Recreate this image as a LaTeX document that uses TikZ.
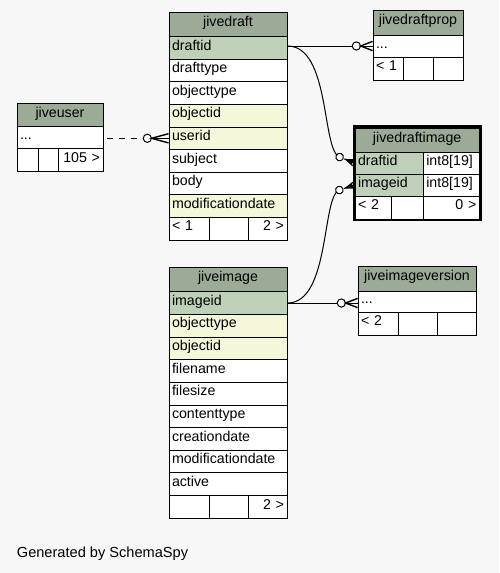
\documentclass[tikz,border=0pt]{standalone}
\usepackage{fontspec}
\setmainfont{Liberation Sans}
\usetikzlibrary{calc}
\definecolor{bgc}{HTML}{F7F7F7}
\definecolor{hdr}{HTML}{9BAB96}
\definecolor{pk}{HTML}{BED1B8}
\definecolor{idx}{HTML}{F4F7DA}
\newcommand\ercell[8]{%
  \pgfmathsetmacro\ercx{#2+#4/2}%
  \pgfmathsetmacro\ercy{#3+#5/2}%
  \pgfmathsetmacro\ertw{#4-6}%
  \node[ercell, fill=#6, text width=\ertw pt, minimum height=#5pt, align=#7] (#1) at (\ercx,\ercy) {#8};}
\tikzset{
  ercell/.style={draw=black, line width=0.9pt, rectangle, inner xsep=3pt, inner ysep=0pt,
    text height=9.5pt, text depth=5pt},
  conn/.style={line width=1pt, draw=black},
  pics/manyopen/.style={code={
    \draw[line width=1pt] (-#1,0) -- (0,0);
    \draw[line width=1pt, fill=white] (-#1-4.2,0) circle (4.1);
    \draw[line width=1.4pt] (0,-4.6) -- (-#1,0) -- (0,4.6);
  }},
  pics/manyfilled/.style={code={
    \draw[line width=1pt] (-11,0) -- (0,0);
    \fill (-11,0) -- (0,-4) -- (-2.5,-0.7) -- (0,0) -- (-2.5,0.7) -- (0,4) -- cycle;
    \draw[line width=1pt, fill=white] (-16,0) circle (3.8);
  }}
}
\begin{document}
\begin{tikzpicture}[x=1pt, y=-1pt, font=\fontsize{14.2}{17}\selectfont]
\fill[bgc] (0,0) rectangle (499,573);
\useasboundingbox (0,0) rectangle (499,573);

% jivedraft
\ercell{jd}{169}{12.4}{118}{24.2}{hdr}{center}{jivedraft}
\ercell{jd-draftid}{169}{36.6}{118}{22.6}{pk}{left}{draftid}
\ercell{jd-drafttype}{169}{59.2}{118}{22.6}{white}{left}{drafttype}
\ercell{jd-objecttype}{169}{81.8}{118}{22.6}{white}{left}{objecttype}
\ercell{jd-objectid}{169}{104.4}{118}{22.6}{idx}{left}{objectid}
\ercell{jd-userid}{169}{127.0}{118}{22.6}{idx}{left}{userid}
\ercell{jd-subject}{169}{149.6}{118}{22.6}{white}{left}{subject}
\ercell{jd-body}{169}{172.2}{118}{22.6}{white}{left}{body}
\ercell{jd-moddate}{169}{194.8}{118}{22.6}{idx}{left}{modificationdate}
\ercell{jd-f1}{169}{217.4}{40}{22.6}{white}{left}{< 1}
\ercell{jd-f2}{209}{217.4}{39}{22.6}{white}{left}{}
\ercell{jd-f3}{248}{217.4}{39}{22.6}{white}{right}{2 >}

% jiveimage
\ercell{ji}{169}{267.3}{118}{24.4}{hdr}{center}{jiveimage}
\ercell{ji-imageid}{169}{291.7}{118}{22.65}{pk}{left}{imageid}
\ercell{ji-objecttype}{169}{314.35}{118}{22.65}{idx}{left}{objecttype}
\ercell{ji-objectid}{169}{337.0}{118}{22.65}{idx}{left}{objectid}
\ercell{ji-filename}{169}{359.65}{118}{22.65}{white}{left}{filename}
\ercell{ji-filesize}{169}{382.3}{118}{22.65}{white}{left}{filesize}
\ercell{ji-contenttype}{169}{404.95}{118}{22.65}{white}{left}{contenttype}
\ercell{ji-creationdate}{169}{427.6}{118}{22.65}{white}{left}{creationdate}
\ercell{ji-moddate}{169}{450.25}{118}{22.65}{white}{left}{modificationdate}
\ercell{ji-active}{169}{472.9}{118}{22.65}{white}{left}{active}
\ercell{ji-f1}{169}{495.55}{40}{22.65}{white}{left}{}
\ercell{ji-f2}{209}{495.55}{39}{22.65}{white}{left}{}
\ercell{ji-f3}{248}{495.55}{39}{22.65}{white}{right}{2 >}

% jivedraftprop
\ercell{jdp}{373}{10}{90}{25}{hdr}{center}{jivedraftprop}
\ercell{jdp-dots}{373}{35}{90}{22}{white}{left}{...}
\ercell{jdp-f1}{373}{57}{30}{23}{white}{left}{< 1}
\ercell{jdp-f2}{403}{57}{30}{23}{white}{left}{}
\ercell{jdp-f3}{433}{57}{30}{23}{white}{left}{}

% jiveuser
\ercell{ju}{17}{103.3}{86}{23.4}{hdr}{center}{jiveuser}
\ercell{ju-dots}{17}{126.7}{86}{21.6}{white}{left}{...}
\ercell{ju-f1}{17}{148.3}{21}{23.4}{white}{left}{}
\ercell{ju-f2}{38}{148.3}{20}{23.4}{white}{left}{}
\ercell{ju-f3}{58}{148.3}{45}{23.4}{white}{right}{105 >}

% jiveimageversion
\ercell{jiv}{358}{266}{118}{25}{hdr}{center}{jiveimageversion}
\ercell{jiv-dots}{358}{291}{118}{21}{white}{left}{...}
\ercell{jiv-f1}{358}{312}{40}{23}{white}{left}{< 2}
\ercell{jiv-f2}{398}{312}{39}{23}{white}{left}{}
\ercell{jiv-f3}{437}{312}{39}{23}{white}{left}{}

% jivedraftimage
\ercell{jdi}{355}{128}{124.3}{24}{hdr}{center}{jivedraftimage}
\ercell{jdi-draftid}{355}{152}{68.3}{22}{pk}{left}{draftid}
\ercell{jdi-draftid-t}{423.3}{152}{56}{22}{white}{left}{int8[19]}
\ercell{jdi-imageid}{355}{174}{68.3}{22}{pk}{left}{imageid}
\ercell{jdi-imageid-t}{423.3}{174}{56}{22}{white}{left}{int8[19]}
\ercell{jdi-f1}{355}{196}{36}{23}{white}{left}{< 2}
\ercell{jdi-f2}{391}{196}{32.3}{23}{white}{left}{}
\ercell{jdi-f3}{423.3}{196}{56}{23}{white}{right}{0 >}
\draw[line width=2.6pt] (354,126.5) rectangle (480.5,220);

% connectors
\draw[conn] (jdp-dots.west -| jd-draftid.east) -- (jdp-dots.west);
\pic at (jdp-dots.west) {manyopen=12};

\draw[conn] (jdp-dots.west -| jd-draftid.east) .. controls +(43,0) and +(-18,-7) .. ($(jdi-draftid.west)+(-15,-6)$);
\pic[rotate=-21.8] at (jdi-draftid.west) {manyfilled};

\draw[conn] (ji-imageid.east) .. controls +(43,0) and +(-18,5) .. ($(jdi-imageid.west)+(-15,5)$);
\pic[rotate=18.4] at (jdi-imageid.west) {manyfilled};

\draw[conn] (ji-imageid.east) -- (ji-imageid.east -| jiv-dots.west);
\pic at (ji-imageid.east -| jiv-dots.west) {manyopen=12};

\draw[conn, dash pattern=on 6pt off 5.7pt, dash phase=7.7pt] (jd-userid.west -| ju-dots.east) -- (jd-userid.west);
\pic at (jd-userid.west) {manyopen=17};

\node[anchor=base west, inner sep=0pt, font=\fontsize{14.6}{17}\selectfont] (gen) at (16.7,557.7) {Generated by SchemaSpy};
\end{tikzpicture}
\end{document}
